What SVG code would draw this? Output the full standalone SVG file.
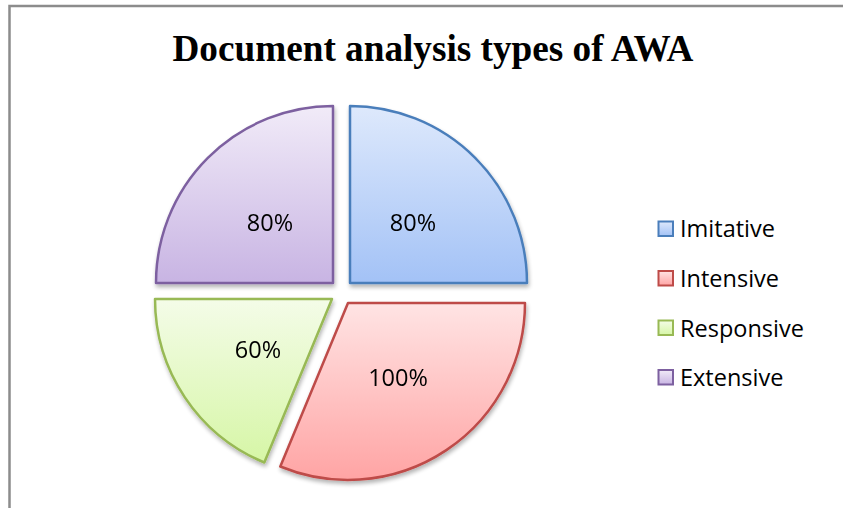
<svg xmlns="http://www.w3.org/2000/svg" width="843" height="508" viewBox="0 0 843 508">
  <style>
    .title { font-family: "Liberation Serif", "Times New Roman", serif; font-weight: bold; font-size: 37.5px; fill: #000; }
    .lbl { font-family: "Open Sans", "Liberation Sans", sans-serif; font-size: 23.5px; fill: #000; text-anchor: middle; }
    .leg { font-family: "Open Sans", "Liberation Sans", sans-serif; font-size: 23.5px; fill: #000; }
    .slice { stroke-width: 2.5; stroke-linejoin: round; }
  </style>
  <defs>
    <linearGradient id="gBlue" x1="0" y1="0" x2="0" y2="1">
      <stop offset="0" stop-color="#dee9fc"/>
      <stop offset="1" stop-color="#a3c2f6"/>
    </linearGradient>
    <linearGradient id="gRed" x1="0" y1="0" x2="0" y2="1">
      <stop offset="0" stop-color="#ffe4e4"/>
      <stop offset="1" stop-color="#ffa4a4"/>
    </linearGradient>
    <linearGradient id="gGreen" x1="0" y1="0" x2="0" y2="1">
      <stop offset="0" stop-color="#f4fce8"/>
      <stop offset="1" stop-color="#d6f6a6"/>
    </linearGradient>
    <linearGradient id="gPurple" x1="0" y1="0" x2="0" y2="1">
      <stop offset="0" stop-color="#f1ebf8"/>
      <stop offset="1" stop-color="#c8b4e3"/>
    </linearGradient>
    <filter id="shadow" x="-10%" y="-10%" width="120%" height="125%">
      <feGaussianBlur in="SourceAlpha" stdDeviation="2"/>
      <feOffset dx="1" dy="3" result="b"/>
      <feComponentTransfer><feFuncA type="linear" slope="0.3"/></feComponentTransfer>
      <feMerge><feMergeNode/><feMergeNode in="SourceGraphic"/></feMerge>
    </filter>
  </defs>

  <rect x="0" y="0" width="843" height="508" fill="#ffffff"/>
  <!-- chart border -->
  <path d="M9.5,508 L9.5,6 L843,6" fill="none" stroke="#8c8c8c" stroke-width="2.5"/>

  <text class="title" x="172.5" y="60.5" textLength="521" lengthAdjust="spacingAndGlyphs">Document analysis types of AWA</text>

  <g id="slice-imitative" filter="url(#shadow)">
    <path class="slice" d="M350,283 L350,106 A177,177 0 0 1 527,283 Z" fill="url(#gBlue)" stroke="#4a7ebb"/>
    <text class="lbl" x="413" y="231">80%</text>
  </g>
  <g id="slice-intensive" filter="url(#shadow)">
    <path class="slice" d="M348,303 L525,303 A177,177 0 0 1 280.3,466.5 Z" fill="url(#gRed)" stroke="#be4b48"/>
    <text class="lbl" x="398" y="386">100%</text>
  </g>
  <g id="slice-responsive" filter="url(#shadow)">
    <path class="slice" d="M332,299 L264.3,462.5 A177,177 0 0 1 155,299 Z" fill="url(#gGreen)" stroke="#98b954"/>
    <text class="lbl" x="258" y="358">60%</text>
  </g>
  <g id="slice-extensive" filter="url(#shadow)">
    <path class="slice" d="M333,283 L156,283 A177,177 0 0 1 333,106 Z" fill="url(#gPurple)" stroke="#7d60a0"/>
    <text class="lbl" x="270" y="231">80%</text>
  </g>

  <g id="legend">
    <g id="legend-imitative">
      <rect x="658.5" y="221.5" width="14.5" height="14.5" fill="url(#gBlue)" stroke="#4a7ebb" stroke-width="2"/>
      <text class="leg" x="680" y="237">Imitative</text>
    </g>
    <g id="legend-intensive">
      <rect x="658.5" y="271" width="14.5" height="14.5" fill="url(#gRed)" stroke="#be4b48" stroke-width="2"/>
      <text class="leg" x="680" y="287">Intensive</text>
    </g>
    <g id="legend-responsive">
      <rect x="658.5" y="320.5" width="14.5" height="14.5" fill="url(#gGreen)" stroke="#98b954" stroke-width="2"/>
      <text class="leg" x="680" y="336.5">Responsive</text>
    </g>
    <g id="legend-extensive">
      <rect x="658.5" y="370" width="14.5" height="14.5" fill="url(#gPurple)" stroke="#7d60a0" stroke-width="2"/>
      <text class="leg" x="680" y="386">Extensive</text>
    </g>
  </g>
</svg>
